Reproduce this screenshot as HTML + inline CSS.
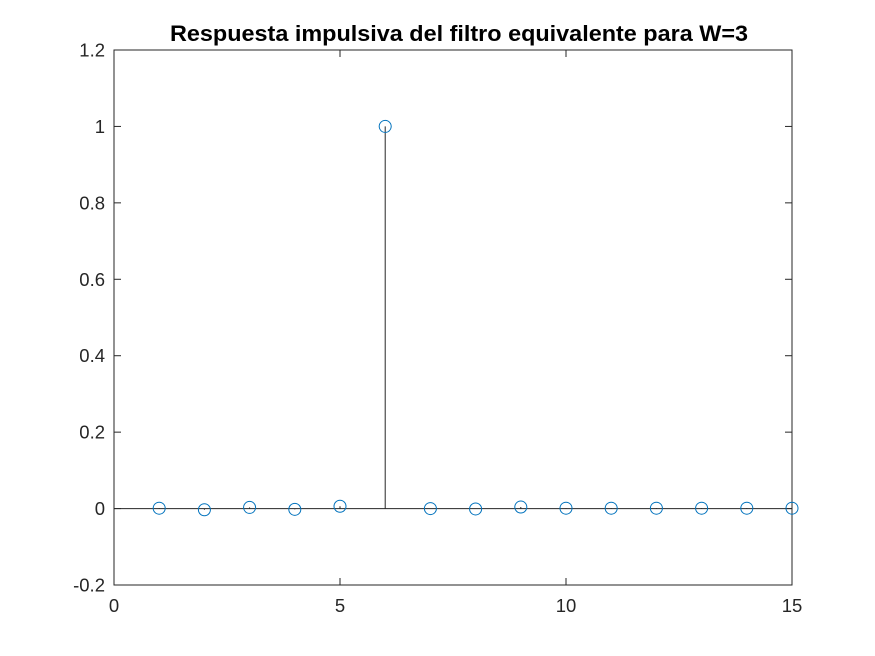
<!DOCTYPE html>
<html><head><meta charset="utf-8"><style>
html,body{margin:0;padding:0;background:#fff;}
svg{display:block;font-family:"Liberation Sans",sans-serif;}
</style></head><body>
<svg id="chart" width="875" height="656" viewBox="0 0 875 656">
<rect x="0" y="0" width="875" height="656" fill="#fff"/>
<text x="459" y="41" text-anchor="middle" font-size="22" font-weight="bold" fill="#000" textLength="578" lengthAdjust="spacingAndGlyphs">Respuesta impulsiva del filtro equivalente para W=3</text>
<g id="plot"></g>
</svg>
<script>
const xValues = [1,2,3,4,5,6,7,8,9,10,11,12,13,14,15];
const yValues = [0.001,-0.003,0.003,-0.002,0.006,1,0,-0.001,0.004,0.001,0.001,0.001,0.001,0.001,0.001];
const xTicks = [0,5,10,15];
const yTicks = [-0.2,0,0.2,0.4,0.6,0.8,1,1.2];
const yTickLabels = ["-0.2","0","0.2","0.4","0.6","0.8","1","1.2"];

const L=114,R=792,T=50,B=585;
const xMin=0,xMax=15,yMin=-0.2,yMax=1.2;
const sx=v=>L+(v-xMin)/(xMax-xMin)*(R-L);
const sy=v=>B-(v-yMin)/(yMax-yMin)*(B-T);
const NS="http://www.w3.org/2000/svg";
const g=document.getElementById('plot');
function mk(tag,attrs){const e=document.createElementNS(NS,tag);for(const k in attrs)e.setAttribute(k,attrs[k]);g.appendChild(e);return e;}

let box=mk('rect',{x:L,y:T,width:R-L,height:B-T,fill:'none',stroke:'#262626','stroke-width':1});



xTicks.forEach(t=>{
  const x=sx(t);
  let a=mk('line',{x1:x,y1:B,x2:x,y2:B-7,stroke:'#262626'});
  
  
  let b=mk('line',{x1:x,y1:T,x2:x,y2:T+7,stroke:'#262626'});
  
  
  let tx=mk('text',{x:x,y:B+27,'text-anchor':'middle','font-size':18.5,fill:'#262626'});
  tx.textContent=t;
  
  
});
yTicks.forEach((t,i)=>{
  const y=sy(t);
  let a=mk('line',{x1:L,y1:y,x2:L+7,y2:y,stroke:'#262626'});
  
  
  let b=mk('line',{x1:R,y1:y,x2:R-7,y2:y,stroke:'#262626'});
  
  
  let tx=mk('text',{x:L-9,y:y+6.5,'text-anchor':'end','font-size':18.5,fill:'#262626'});
  tx.textContent=yTickLabels[i];
  
  
});

let base=mk('line',{x1:L,y1:sy(0),x2:R,y2:sy(0),stroke:'#262626','stroke-width':1});



xValues.forEach((xv,i)=>{
  const x=sx(xv),y=sy(yValues[i]);
  let s=mk('line',{x1:x,y1:sy(0),x2:x,y2:y,stroke:'#262626','stroke-width':1});
  
  
  let c=mk('circle',{cx:x,cy:y,r:6,fill:'none',stroke:'#0072BD','stroke-width':1});
  
  
});
</script>
</body></html>
